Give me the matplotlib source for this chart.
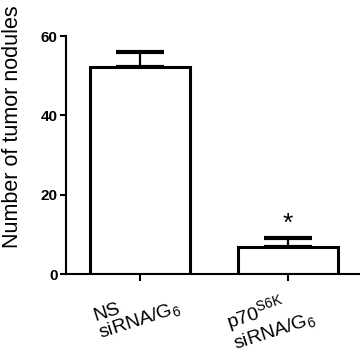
import numpy as np
import matplotlib
matplotlib.use("Agg")
import matplotlib.pyplot as plt

plt.rcParams['font.family'] = ['Liberation Sans', 'DejaVu Sans']
plt.rcParams['mathtext.fontset'] = 'custom'
plt.rcParams['mathtext.rm'] = 'Liberation Sans'
plt.rcParams['mathtext.it'] = 'Liberation Sans'

# data
groups = ['NS\nsiRNA/G$_6$', 'p70$^{S6K}$\nsiRNA/G$_6$']
means = [52.3, 6.9]
errs = [3.7, 2.3]
yticks = [0, 20, 40, 60]

fig = plt.figure(figsize=(3.6, 3.53), dpi=100)
ax = fig.add_axes([66/360, 1-274/353, 1-66/360, (274-36)/353])

x = np.arange(len(means))
ax.bar(x, means, width=0.67, color='white', edgecolor='black', linewidth=2.2, zorder=2)
ax.errorbar(x, means, yerr=[[0, 0], errs], fmt='none', ecolor='black',
            elinewidth=1.6, capsize=17, capthick=3, zorder=1, clip_on=False)
ax.text(x[1], means[1] + errs[1] + 3.5, '*', ha='center', va='center', fontsize=19)

ax.set_xlim(-0.5, 1.486)
ax.set_ylim(0, 60)
ax.set_yticks(yticks)
ax.set_yticklabels([str(v) for v in yticks], fontweight='bold', fontsize=11,
                   family=['Liberation Sans Narrow', 'Liberation Sans'])
ax.set_xticks(x)
ax.set_xticklabels([])
# rotated group labels, placed by hand under each tick (offsets in pixels)
offsets = [(-3, -8), (-18, -10)]
for xi, lab, off in zip(x, groups, offsets):
    ax.annotate(lab, xy=(xi, 0), xycoords=('data', 'axes fraction'),
                xytext=off, textcoords='offset pixels', rotation=18,
                ha='center', va='top', multialignment='left',
                fontsize=14, linespacing=1.0)
ax.set_ylabel('Number of tumor nodules', fontsize=15.5)
ax.yaxis.set_label_coords(-0.147, (274-127)/238)

for s in ['top', 'right']:
    ax.spines[s].set_visible(False)
for s in ['left', 'bottom']:
    ax.spines[s].set_linewidth(1.5)
ax.tick_params(axis='y', length=4, width=1.5, pad=2)
ax.tick_params(axis='x', length=5, width=1.5)

fig.savefig('out.png', dpi=100)
